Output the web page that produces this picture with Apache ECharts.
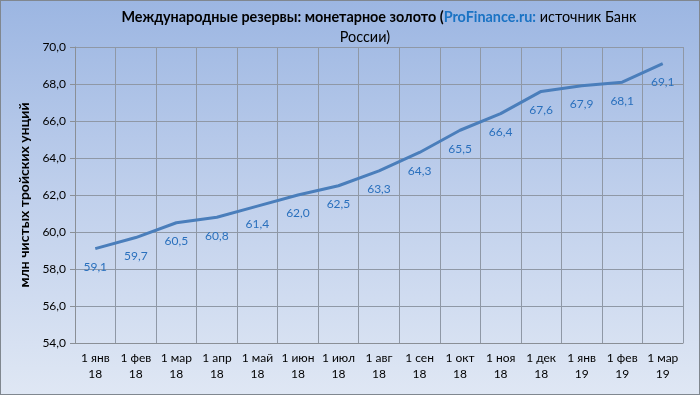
<!DOCTYPE html>
<html><head><meta charset="utf-8">
<script src="https://cdn.jsdelivr.net/npm/echarts@6/dist/echarts.min.js"></script>
<style>
html,body{margin:0;padding:0;}
#c{width:700px;height:395px;box-sizing:border-box;border:1px solid #80878f;
background:linear-gradient(to bottom,#9cb6e2 0%,#c0d0ec 50%,#dfe7f4 100%);}
</style></head>
<body><div id="c"></div>
<script>
const categories = ['1 янв\n18','1 фев\n18','1 мар\n18','1 апр\n18','1 май\n18','1 июн\n18','1 июл\n18','1 авг\n18','1 сен\n18','1 окт\n18','1 ноя\n18','1 дек\n18','1 янв\n19','1 фев\n19','1 мар\n19'];
const values = [59.1,59.7,60.5,60.8,61.4,62.0,62.5,63.3,64.3,65.5,66.4,67.6,67.9,68.1,69.1];
const yTicks = [54,56,58,60,62,64,66,68,70];
const fmt = v => Number(v).toFixed(1).replace('.', ',');
const FONT = 'Lato, "Open Sans", sans-serif';
const TS = 14.4;
const chart = echarts.init(document.getElementById('c'), null, {renderer:'canvas'});
chart.setOption({
  backgroundColor: 'transparent',
  animation: false,
  textStyle: {fontFamily: FONT},
  title: [{
    left: 378, top: 6, textAlign: 'center', padding: 0,
    text: '{b|Международные резервы: монетарное золото (}{l|ProFinance.ru:}{n| источник Банк}',
    textStyle: {
      fontFamily: FONT,
      rich: {
        b: {fontWeight:'bold', fontSize:TS, color:'#000', fontFamily:FONT, lineHeight:20},
        l: {fontWeight:'bold', fontSize:TS, color:'#1a73c4', fontFamily:FONT, lineHeight:20},
        n: {fontWeight:'normal', fontSize:TS, color:'#000', fontFamily:FONT, lineHeight:20}
      }
    }
  }, {
    left: 364, top: 26, textAlign: 'center', padding: 0,
    text: 'России)',
    textStyle: {fontFamily: FONT, fontWeight: 'normal', fontSize: TS, color: '#000', lineHeight: 20}
  }],
  grid: {left: 74, right: 16, top: 46, bottom: 51},
  xAxis: {
    type: 'category', data: categories, boundaryGap: true,
    axisLine: {show: true, lineStyle: {color: '#8a8f96'}},
    axisTick: {show: false},
    axisLabel: {color: '#000', fontSize: 12, lineHeight: 16, margin: 7, interval: 0, fontFamily: FONT},
    splitLine: {show: true, interval: 0, lineStyle: {color: '#8f98a6', width: 1}}
  },
  yAxis: {
    type: 'value', min: yTicks[0], max: yTicks[yTicks.length-1], interval: 2,
    name: 'млн чистых тройских унций', nameLocation: 'middle', nameGap: 42, nameRotate: 90,
    nameTextStyle: {fontWeight: 'bold', fontSize: 14, color: '#000', fontFamily: FONT},
    axisLine: {show: true, lineStyle: {color: '#8a8f96'}},
    axisTick: {show: true, length: 5, lineStyle: {color: '#8a8f96'}},
    axisLabel: {color: '#000', fontSize: 12, margin: 9, formatter: fmt, fontFamily: FONT},
    splitLine: {show: true, lineStyle: {color: '#8f98a6', width: 1}}
  },
  series: [{
    type: 'line', data: values, symbol: 'circle', symbolSize: 1, showSymbol: true,
    itemStyle: {color: 'rgba(0,0,0,0)'},
    lineStyle: {color: '#4a7ebb', width: 3},
    label: {show: true, position: 'bottom', distance: 12, color: '#2a70bd', fontSize: 12, formatter: p => fmt(p.value), fontFamily: FONT}
  }]
});
</script></body></html>
